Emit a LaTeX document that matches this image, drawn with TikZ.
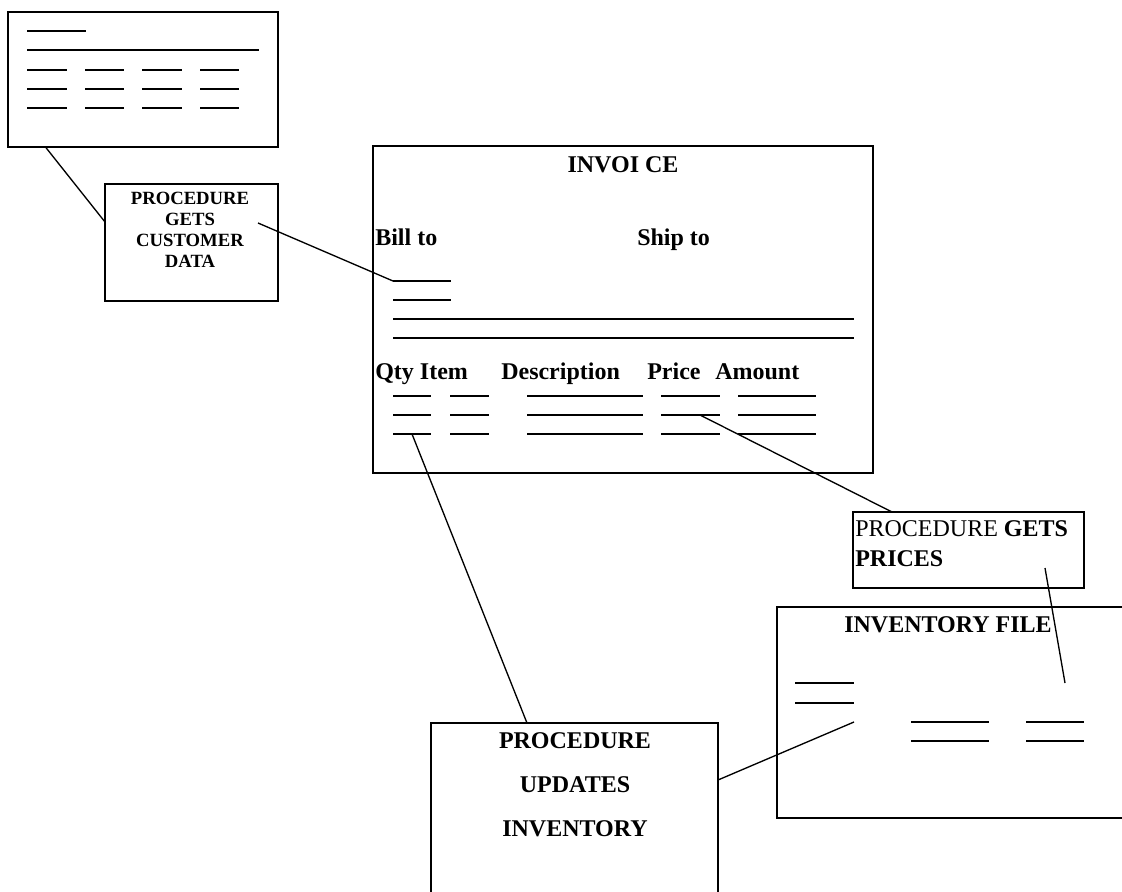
\documentclass[tikz,border=0pt]{standalone}
\usepackage{fontspec}
\setmainfont{Liberation Serif}
\usetikzlibrary{fit}

\begin{document}
\begin{tikzpicture}[x=0.75pt,y=-0.75pt,
  box/.style={draw, inner sep=0pt, line width=1.3pt},
  frame/.style={inner sep=0pt},
  rule/.style={line width=1.3pt},
  link/.style={line width=1pt},
  big/.style={inner sep=0pt, font=\bfseries\fontsize{18}{20}\selectfont}]
\useasboundingbox (0,0) rectangle (1122,892);

% customer file
\node[box, fit={(8,12) (278,147)}] (custfile) {};
\draw[rule] (27,31) -- (86,31);
\draw[rule] (27,50) -- (259,50);
\foreach \y in {70,89,108}
  \foreach \a/\b in {27/67,85/124,142/182,200/239}
    \draw[rule] (\a,\y) -- (\b,\y);

% procedure: customer data
\node[box, fit={(105,184) (278,301)}] (custproc) {};
\node[inner sep=0pt, anchor=north, align=center,
      font=\bfseries\fontsize{14}{15.75}\selectfont] (custtext) at (190,192)
  {PROCEDURE\\GETS\\CUSTOMER\\DATA};
\coordinate (custtail) at (258,223);

% invoice
\node[box, fit={(373,146) (873,473)}] (invoice) {};
\node[big, anchor=base] (invtitle) at (623,172) {INVOI CE};
\node[big, anchor=base west] (billto) at (375,245) {Bill to};
\node[big, anchor=base west] (shipto) at (637,245) {Ship to};
\draw[rule] (393,281) coordinate (billline) -- (451,281);
\draw[rule] (393,300) -- (451,300);
\draw[rule] (393,319) -- (854,319);
\draw[rule] (393,338) -- (854,338);
\node[big, anchor=base west] (hqty) at (375,379) {Qty Item};
\node[big, anchor=base west] (hdesc) at (501,379) {Description};
\node[big, anchor=base west] (hprice) at (647,379) {Price};
\node[big, anchor=base west] (hamount) at (715,379) {Amount};
\foreach \y in {396,415,434}
  \foreach \a/\b in {393/431,450/489,527/643,661/720,738/816}
    \draw[rule] (\a,\y) -- (\b,\y);
\coordinate (qtyline) at (412,434);
\coordinate (priceline) at (700,415);

% procedure: prices
\node[box, fit={(853,512) (1084,588)}] (prices) {};
\node[inner sep=0pt, anchor=north west, align=left,
      font=\fontsize{18}{22.5}\selectfont] (pricetext) at (855,520)
  {PROCEDURE \textbf{GETS}\\\textbf{PRICES}};
\coordinate (pricetail) at (1045,568);

% inventory file (runs past the right edge)
\node[frame, fit={(777,607) (1122,818)}] (invfile) {};
\draw[rule] (invfile.north east) -- (invfile.north west)
  -- (invfile.south west) -- (invfile.south east);
\node[big, anchor=base] (invfiletitle) at (948,632) {INVENTORY FILE};
\draw[rule] (795,683) -- (854,683);
\draw[rule] (795,703) -- (854,703);
\foreach \y in {722,741} {
  \draw[rule] (911,\y) -- (989,\y);
  \draw[rule] (1026,\y) -- (1084,\y);
}
\coordinate (invslot) at (854,722);
\coordinate (invprice) at (1065,683);

% procedure: updates inventory (runs past the bottom edge)
\node[frame, fit={(431,723) (718,892)}] (updates) {};
\draw[rule] (updates.south west) -- (updates.north west)
  -- (updates.north east) -- (updates.south east);
\node[inner sep=0pt, anchor=north, align=center,
      font=\bfseries\fontsize{18}{33}\selectfont] (updtext) at (575,732)
  {PROCEDURE\\UPDATES\\INVENTORY};

% connectors
\draw[link] (custfile.south west) ++(39,0) coordinate (custfoot) -- (105,222) coordinate (custin);
\draw[link] (custtail) -- (billline);
\draw[link] (priceline) -- (892,512) coordinate (pricetop);
\draw[link] (pricetail) -- (invprice);
\draw[link] (qtyline) -- (527,723) coordinate (updtop);
\draw[link] (invslot) -- (718,780) coordinate (updside);
\end{tikzpicture}
\end{document}
